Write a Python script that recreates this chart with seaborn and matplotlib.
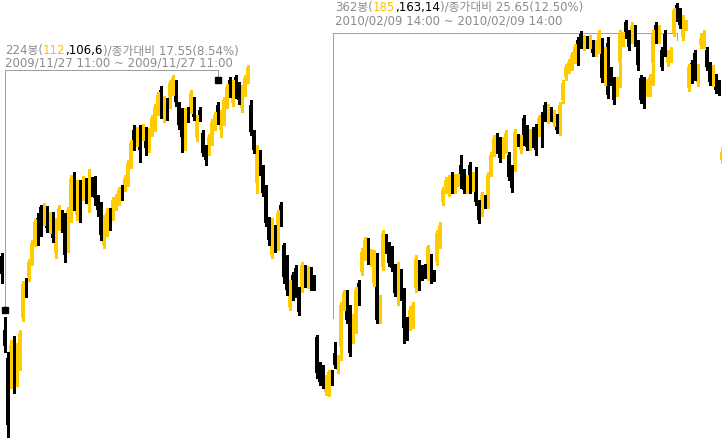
import matplotlib
matplotlib.use("Agg")
import matplotlib.pyplot as plt
import matplotlib.transforms as mtransforms
import numpy as np
import seaborn as sns

# candle values in chart units, measured downward from the top of the panel
opens = [256, 330, 358, 383, 340, 382, 367, 318, 281, 277,
         262, 243, 218, 207, 217, 210, 230, 215, 253, 226,
         213, 217, 248, 217, 182, 215, 185, 195, 180, 205,
         180, 180, 198, 205, 245, 233, 212, 215, 207, 200,
         188, 188, 183, 165, 130, 142, 128, 136, 130, 148,
         133, 128, 112, 90, 118, 102, 105, 90, 83, 105,
         117, 140, 110, 110, 100, 137, 110, 133, 147, 152,
         142, 127, 105, 130, 122, 105, 80, 103, 77, 85,
         108, 93, 80, 105, 132, 183, 152, 168, 188, 220,
         255, 228, 247, 205, 245, 258, 307, 275, 268, 290,
         290, 268, 285, 270, 278, 337, 365, 368, 392, 393,
         372, 353, 370, 347, 307, 292, 307, 340, 330, 283,
         272, 257, 240, 263, 283, 282, 320, 267, 236, 245,
         250, 268, 290, 272, 292, 320, 327, 325, 288, 262,
         267, 267, 277, 257, 273, 262, 245, 202, 190, 193,
         175, 190, 183, 165, 172, 190, 165, 188, 172, 203,
         213, 197, 205, 173, 153, 138, 140, 155, 150, 155,
         168, 168, 137, 150, 118, 128, 147, 130, 127, 133,
         115, 105, 120, 110, 123, 117, 132, 100, 77, 70,
         67, 60, 40, 33, 47, 38, 45, 42, 53, 50,
         50, 82, 43, 70, 80, 93, 62, 43, 22, 33,
         40, 30, 43, 78, 80, 93, 93, 63, 25, 40,
         50, 33, 63, 58, 33, 5, 10, 37, 27, 88,
         63, 53, 83, 45, 45, 50, 65, 83, 77, 83,
         160]
closes = [274, 346, 425, 345, 372, 346, 333, 284, 293, 262,
          243, 222, 240, 233, 205, 228, 215, 238, 220, 208,
          227, 255, 210, 178, 205, 185, 212, 180, 198, 180,
          192, 198, 210, 235, 220, 212, 223, 200, 197, 190,
          197, 178, 163, 143, 145, 130, 150, 127, 148, 132,
          118, 107, 95, 115, 100, 117, 83, 78, 102, 125,
          137, 110, 118, 93, 117, 117, 118, 153, 160, 137,
          122, 115, 120, 117, 100, 87, 93, 83, 95, 100,
          88, 78, 67, 132, 150, 148, 170, 193, 223, 240,
          222, 247, 213, 222, 277, 290, 285, 297, 293, 312,
          265, 283, 270, 287, 287, 373, 382, 385, 378, 372,
          382, 365, 357, 305, 293, 320, 353, 317, 290, 300,
          252, 240, 260, 252, 253, 320, 298, 233, 250, 263,
          268, 293, 265, 297, 328, 337, 310, 305, 258, 285,
          277, 275, 247, 280, 278, 233, 225, 190, 180, 178,
          190, 177, 177, 185, 190, 178, 190, 175, 202, 220,
          195, 205, 175, 155, 138, 150, 158, 140, 133, 177,
          188, 132, 143, 138, 140, 147, 132, 143, 150, 118,
          137, 118, 108, 118, 113, 130, 105, 83, 67, 62,
          55, 47, 62, 45, 38, 45, 38, 53, 43, 33,
          78, 50, 95, 80, 100, 80, 33, 35, 35, 47,
          25, 43, 65, 100, 100, 82, 77, 33, 40, 30,
          67, 53, 53, 50, 10, 18, 25, 18, 23, 67,
          80, 77, 67, 38, 35, 67, 82, 68, 90, 92,
          152]
highs = [253, 317, 352, 340, 336, 343, 330, 281, 278, 259,
         240, 219, 213, 205, 203, 206, 212, 212, 218, 205,
         210, 213, 207, 175, 172, 180, 180, 176, 178, 169,
         177, 176, 195, 202, 215, 208, 208, 197, 194, 187,
         185, 175, 160, 140, 125, 127, 125, 124, 127, 128,
         115, 104, 92, 86, 96, 98, 80, 75, 80, 102,
         108, 108, 107, 90, 97, 115, 107, 130, 145, 134,
         119, 112, 102, 110, 97, 84, 77, 80, 75, 82,
         85, 75, 65, 100, 130, 145, 150, 165, 185, 217,
         218, 225, 210, 202, 243, 255, 280, 272, 265, 287,
         262, 265, 266, 267, 275, 335, 362, 365, 375, 370,
         370, 342, 355, 302, 290, 290, 305, 314, 287, 280,
         248, 237, 238, 249, 250, 253, 295, 230, 234, 242,
         246, 264, 262, 269, 288, 317, 306, 302, 255, 260,
         265, 264, 245, 254, 270, 230, 222, 187, 177, 175,
         172, 174, 174, 155, 169, 175, 162, 172, 167, 200,
         192, 195, 172, 152, 135, 133, 137, 137, 130, 152,
         165, 129, 134, 135, 115, 125, 129, 127, 124, 115,
         112, 102, 104, 107, 110, 114, 102, 80, 64, 59,
         52, 44, 37, 31, 35, 36, 35, 40, 40, 30,
         38, 47, 37, 67, 77, 77, 30, 32, 20, 30,
         22, 25, 40, 75, 77, 79, 74, 30, 22, 25,
         47, 30, 50, 47, 8, 3, 8, 15, 20, 64,
         60, 50, 64, 33, 30, 47, 62, 65, 74, 80,
         147]
lows = [283, 352, 437, 388, 393, 386, 370, 321, 297, 281,
        265, 246, 245, 236, 225, 232, 233, 242, 258, 230,
        232, 262, 252, 222, 210, 220, 222, 200, 203, 212,
        196, 205, 216, 240, 248, 236, 230, 220, 210, 205,
        200, 191, 186, 168, 150, 146, 162, 140, 155, 152,
        136, 131, 115, 118, 122, 120, 108, 95, 106, 129,
        152, 150, 122, 113, 120, 141, 121, 156, 165, 155,
        145, 130, 124, 137, 125, 108, 97, 106, 98, 104,
        112, 96, 83, 135, 153, 193, 175, 196, 226, 245,
        258, 252, 250, 226, 283, 295, 310, 300, 297, 315,
        292, 287, 288, 290, 290, 378, 385, 388, 395, 396,
        385, 368, 373, 360, 310, 323, 356, 343, 333, 305,
        275, 260, 264, 266, 286, 323, 323, 270, 253, 266,
        271, 296, 305, 300, 343, 340, 330, 328, 292, 290,
        280, 278, 280, 283, 281, 265, 248, 205, 193, 196,
        193, 193, 186, 188, 193, 193, 193, 191, 205, 223,
        216, 208, 208, 176, 156, 153, 162, 158, 153, 180,
        192, 171, 146, 153, 145, 150, 150, 147, 155, 136,
        147, 121, 123, 121, 126, 133, 135, 103, 80, 73,
        70, 63, 65, 48, 50, 48, 48, 56, 56, 53,
        82, 85, 98, 85, 104, 96, 87, 46, 38, 50,
        43, 46, 70, 103, 108, 96, 96, 85, 43, 43,
        70, 56, 66, 62, 36, 21, 28, 40, 30, 91,
        83, 80, 86, 48, 48, 70, 85, 86, 93, 95,
        163]

# selected ranges: candle index of each end, line level, levels at the two ends
range_start = [1.2, 110.5]
range_end = [72.2, 225.2]
range_top = [70, 33]
range_start_level = [310, 318]
range_end_level = [80, 40]
range_marked = [True, False]

label_pieces = [
    [("224봉(", "gray"), ("112", "up"), (",106,6", "down"), (")/종가대비 17.55(8.54%)", "gray")],
    [("362봉(", "gray"), ("185", "up"), (",163,14", "down"), (")/종가대비 25.65(12.50%)", "gray")],
]
label_dates = ["2009/11/27 11:00 ~ 2009/11/27 11:00",
               "2010/02/09 14:00 ~ 2010/02/09 14:00"]

UP = "#ffcc00"
DOWN = "#000000"
GRAY = "#8c8c8c"
LINE = "#a0a0a0"
palette = {"up": "#ffc000", "down": DOWN, "gray": GRAY}

sns.set_style("white")
plt.rcParams["font.family"] = ["DejaVu Sans", "Noto Sans CJK KR"]

fig = plt.figure(figsize=(7.22, 4.40), dpi=100)
ax = fig.add_axes([0, 0, 1, 1])
ax.set_axis_off()

x = np.arange(len(opens))
o = np.array(opens)
c = np.array(closes)
up = c < o
colors = np.where(up, UP, DOWN)

ax.vlines(x, highs, lows, colors=colors, linewidth=0.75, antialiased=False)
ax.bar(x, c - o, bottom=o, width=0.8, color=colors, linewidth=0, antialiased=False)

for s, e, top, lv0, lv1, marked in zip(range_start, range_end, range_top,
                                      range_start_level, range_end_level, range_marked):
    ax.plot([s, s, e, e], [lv0, top, top, lv1], color=LINE, linewidth=0.72,
            antialiased=False, zorder=1)
    if marked:
        ax.plot([s, e], [lv0, lv1], linestyle="none", marker="s", markersize=4.6,
                color=DOWN, zorder=3)

ax.set_xlim(-0.5, 722 / 3 - 0.5)
ax.set_ylim(440, 0)

fig.canvas.draw()
renderer = fig.canvas.get_renderer()


def pieced_text(xp, yp, pieces):
    trans = mtransforms.offset_copy(fig.transFigure, fig=fig, x=0, y=0, units="dots")
    for s, key in pieces:
        t = fig.text(xp / 722, 1 - yp / 440, s, color=palette[key], fontsize=8.5,
                     va="baseline", ha="left", transform=trans)
        t.draw(renderer)
        ext = t.get_window_extent(renderer)
        trans = mtransforms.offset_copy(t.get_transform(), fig=fig, x=ext.width, units="dots")


label_pos = [(5, 54, 66), (335, 11, 24)]
for (xp, y1, y2), pieces, date in zip(label_pos, label_pieces, label_dates):
    pieced_text(xp, y1, pieces)
    fig.text(xp / 722, 1 - y2 / 440, date, color=GRAY, fontsize=8.5, va="baseline", ha="left")

fig.savefig("out.png", dpi=100)
